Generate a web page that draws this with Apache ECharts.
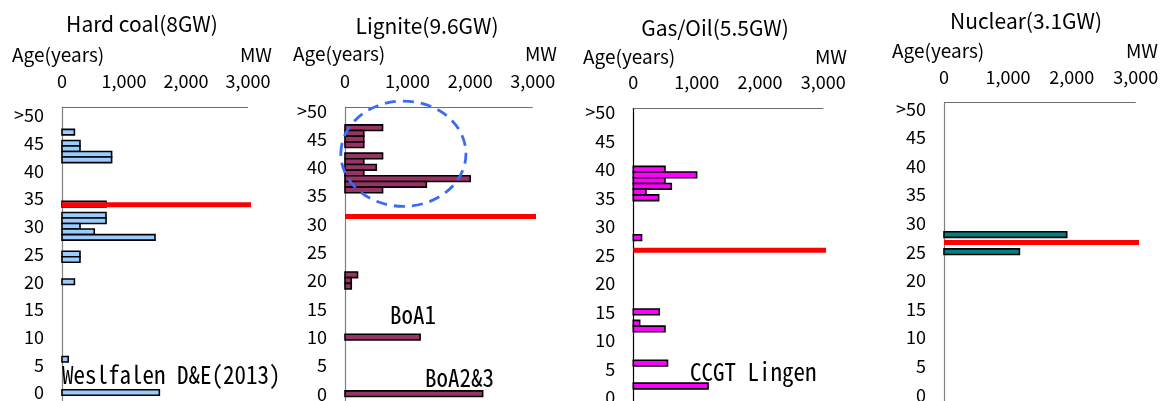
<!DOCTYPE html>
<html><head><meta charset="utf-8">
<script src="https://cdn.jsdelivr.net/npm/echarts@6/dist/echarts.min.js"></script>
<style>html,body{margin:0;padding:0;background:#fff}#c{width:1162px;height:401px}</style>
</head><body><div id="c"></div>
<script>
// ---------- data ----------
const panelTitles = ['Hard coal(8GW)', 'Lignite(9.6GW)', 'Gas/Oil(5.5GW)', 'Nuclear(3.1GW)'];
const yAxisName = 'Age(years)';
const xAxisName = 'MW';
const xTickValues = [0, 1000, 2000, 3000];
const ageTickTop = '>50';

const hardCoalAge = [47, 45, 44, 43, 42, 34, 32, 31, 30, 29, 28, 25, 24, 20, 6, 0];
const hardCoalMW  = [200, 290, 290, 800, 800, 710, 710, 710, 290, 520, 1500, 290, 290, 200, 100, 1570];

const ligniteAge = [47, 46, 45, 44, 42, 41, 40, 39, 38, 37, 36, 21, 20, 19, 10, 0];
const ligniteMW  = [600, 300, 300, 300, 600, 300, 500, 300, 2000, 1300, 600, 200, 100, 100, 1200, 2200];

const gasOilAge = [40, 39, 38, 37, 36, 35, 28, 15, 13, 12, 6, 2];
const gasOilMW  = [500, 1000, 500, 600, 200, 400, 130, 410, 100, 500, 540, 1180];

const nuclearAge = [28, 25];
const nuclearMW  = [1920, 1180];

// average age marker (red line) per panel
const avgAge     = [33.9, 31.3, 25.8, 26.6];
const avgLineEnd = [3200, 3210, 3170, 3130];

// text annotations: panel index, text, MW position, age position
const annoPanel = [0, 1, 1, 2];
const annoText  = ['Weslfalen D&E(2013)', 'BoA1', 'BoA2&3', 'CCGT Lingen'];
const annoMW    = [0, 720, 1280, 896];
const annoAge   = [3.2, 13.9, 2.8, 4.5];

// dashed highlight ellipse on lignite panel: centre (MW, age) and radii (MW, years)
const ringCenter = [933, 42.4];
const ringRadius = [1000, 9.3];

// ---------- layout / style ----------
const FONT = "'Noto Sans CJK JP', 'Noto Sans', sans-serif";
const ANNO_FONT = "'Noto Sans Mono CJK JP', 'DejaVu Sans Mono', monospace";
const AXIS_GREY = '#6e6e6e';
const TICK_LEN = 7;
const colors = ['#99CCFF', '#993366', '#FF00FF', '#008080'];
const panels = [
  {left: 62,    width: 186,   top: 107,   zero: 392.5, ppy: 5.54,  title: [142, 24],  age: [12, 55],  mw: [272, 55],  yLine: '#808080'},
  {left: 345,   width: 187.7, top: 107,   zero: 393.7, ppy: 5.66,  title: [427, 26],  age: [293, 54], mw: [557, 54],  yLine: '#808080'},
  {left: 633.3, width: 190,   top: 108.3, zero: 397.4, ppy: 5.705, title: [715, 28],  age: [583, 57], mw: [847, 57],  yLine: '#000000'},
  {left: 944,   width: 191.7, top: 102.7, zero: 394.7, ppy: 5.72,  title: [1026, 21], age: [892, 51], mw: [1158, 51], yLine: '#808080'}
];
const ages = [hardCoalAge, ligniteAge, gasOilAge, nuclearAge];
const mws  = [hardCoalMW, ligniteMW, gasOilMW, nuclearMW];

const grids = [], xAxes = [], yAxes = [], series = [], graphics = [];
panels.forEach((p, i) => {
  const yMax = (p.zero - p.top) / p.ppy;
  const xMin = xTickValues[0], xMax = xTickValues[xTickValues.length - 1];
  grids.push({left: p.left, width: p.width, top: p.top, height: (p.zero - p.top) + 5 * p.ppy,
    containLabel: false, outerBoundsMode: 'none'});
  xAxes.push({
    type: 'value', gridIndex: i, position: 'top', min: xMin, max: xMax,
    interval: xTickValues[1] - xTickValues[0],
    axisLine: {show: false, onZero: false},
    axisTick: {show: false},
    splitLine: {show: false},
    axisLabel: {fontFamily: FONT, fontSize: 18, color: '#000', margin: 17,
      formatter: v => v.toLocaleString('en-US')}
  });
  yAxes.push({
    type: 'value', gridIndex: i, min: -5, max: yMax, interval: 5,
    axisLine: {show: true, onZero: false, lineStyle: {color: p.yLine, width: 1.2}},
    axisTick: {show: false}, splitLine: {show: false},
    axisLabel: {fontFamily: FONT, fontSize: 18, color: '#000', margin: 18,
      showMaxLabel: true, showMinLabel: true,
      formatter: v => (v < 0 || v > 50.01 || Math.abs(v % 5) > 1e-6) ? '' : (v === 50 ? ageTickTop : String(v))}
  });
  const col = colors[i];
  series.push({
    type: 'custom', xAxisIndex: i, yAxisIndex: i, z: 2,
    data: ages[i].map((a, k) => [mws[i][k], a]),
    renderItem: (params, api) => {
      const mw = api.value(0), age = api.value(1);
      const p0 = api.coord([0, age]);
      const p1 = api.coord([mw, age]);
      const h = api.size([0, 1])[1];
      return {type: 'rect', shape: {x: p0[0], y: p0[1] - h / 2, width: p1[0] - p0[0], height: h},
        style: {fill: col, stroke: '#000', lineWidth: 1.6}};
    }
  });
  // top MW axis line and its outward ticks, placed through the grid's scales
  const tickTop = yMax + TICK_LEN / p.ppy;
  const axisMarks = [[{coord: [xMin, yMax]}, {coord: [xMax, yMax]}]]
    .concat(xTickValues.slice(1).map(v => [{coord: [v, yMax]}, {coord: [v, tickTop]}]));
  series.push({
    type: 'line', xAxisIndex: i, yAxisIndex: i, z: 5, clip: false, symbol: 'none', silent: true,
    data: [[0, avgAge[i]], [avgLineEnd[i], avgAge[i]]],
    lineStyle: {color: '#FF0000', width: 5},
    markLine: {silent: true, symbol: ['none', 'none'], animation: false, z: 1,
      label: {show: false}, emphasis: {disabled: true},
      lineStyle: {color: AXIS_GREY, width: 1.2, type: 'solid'},
      data: axisMarks}
  });
  graphics.push({type: 'text', x: p.title[0], y: p.title[1],
    style: {text: panelTitles[i], font: '21px ' + FONT, fill: '#000', textAlign: 'center', textVerticalAlign: 'middle'}});
  graphics.push({type: 'text', x: p.age[0], y: p.age[1],
    style: {text: yAxisName, font: '19px ' + FONT, fill: '#000', textAlign: 'left', textVerticalAlign: 'middle'}});
  graphics.push({type: 'text', x: p.mw[0], y: p.mw[1],
    style: {text: xAxisName, font: '19px ' + FONT, fill: '#000', textAlign: 'right', textVerticalAlign: 'middle'}});
});

const chart = echarts.init(document.getElementById('c'), null, {renderer: 'canvas'});
chart.setOption({
  animation: false,
  backgroundColor: '#fff',
  grid: grids, xAxis: xAxes, yAxis: yAxes, series: series
});

// annotations placed through the grids' own scales
annoText.forEach((t, k) => {
  const pt = chart.convertToPixel({gridIndex: annoPanel[k]}, [annoMW[k], annoAge[k]]);
  graphics.push({type: 'text', x: pt[0], y: pt[1], scaleY: 1.08, z: 20,
    style: {text: t, font: '23px ' + ANNO_FONT, fill: '#000', textAlign: 'left', textVerticalAlign: 'middle'}});
});
const c0 = chart.convertToPixel({gridIndex: 1}, ringCenter);
const c1 = chart.convertToPixel({gridIndex: 1}, [ringCenter[0] + ringRadius[0], ringCenter[1] - ringRadius[1]]);
graphics.push({type: 'ellipse', z: 21, shape: {cx: c0[0], cy: c0[1], rx: Math.abs(c1[0] - c0[0]), ry: Math.abs(c1[1] - c0[1])},
  style: {fill: 'none', stroke: '#3A6BF5', lineWidth: 2.8, lineDash: [11, 7]}});

chart.setOption({graphic: graphics});
</script></body></html>
